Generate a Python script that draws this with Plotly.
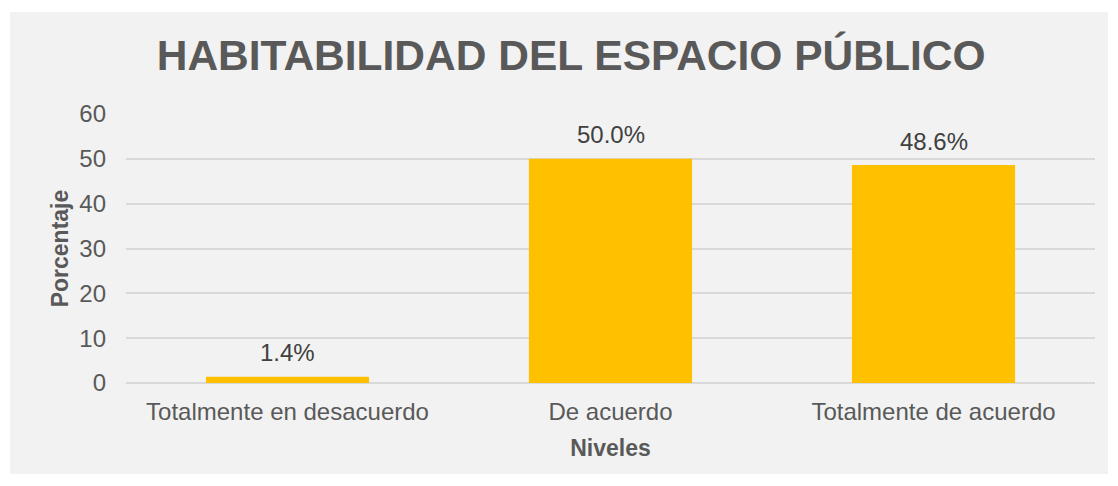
import plotly.graph_objects as go

niveles = ["Totalmente en desacuerdo", "De acuerdo", "Totalmente de acuerdo"]
porcentaje = [1.4, 50.0, 48.6]
y_ticks = [0, 10, 20, 30, 40, 50, 60]

fig = go.Figure()

fig.add_trace(go.Bar(
    x=niveles,
    y=porcentaje,
    marker=dict(color="#FFC000", line=dict(width=0)),
    hoverinfo="x+y",
))

# etiquetas de datos encima de cada barra
for nivel, valor in zip(niveles, porcentaje):
    fig.add_annotation(
        x=nivel, y=valor, text=f"{valor:.1f}%",
        showarrow=False, yanchor="middle", yshift=24,
        font=dict(size=24, color="#404040"),
    )

# fondo gris del área del gráfico
fig.add_shape(
    type="rect", xref="paper", yref="paper", layer="below",
    x0=-0.1197, x1=1.0134, y0=-0.3383, y1=1.3792,
    fillcolor="#F2F2F2", line=dict(width=0),
)

fig.update_layout(
    width=1102,
    height=470,
    margin=dict(l=118, r=15, t=106, b=95),
    paper_bgcolor="white",
    plot_bgcolor="rgba(0,0,0,0)",
    font=dict(family="Liberation Sans, Arial, sans-serif", color="#595959"),
    title=dict(
        text="<b>HABITABILIDAD DEL ESPACIO PÚBLICO</b>",
        font=dict(size=42.5, color="#595959"),
        x=0.511, xanchor="center", y=0.9, yanchor="middle",
    ),
    bargap=0.495,
    showlegend=False,
    xaxis=dict(
        title=dict(text="<b>Niveles</b>", font=dict(size=23, color="#595959"), standoff=15),
        tickfont=dict(size=24, color="#595959"),
        ticklabelstandoff=12,
        showgrid=False,
        showline=False,
        ticks="",
    ),
    yaxis=dict(
        title=dict(text="<b>Porcentaje</b>", font=dict(size=23, color="#595959"), standoff=4),
        range=[0, 60],
        tickvals=y_ticks,
        tickfont=dict(size=24, color="#595959"),
        ticklabelstandoff=19,
        gridcolor="#D9D9D9",
        gridwidth=1.5,
        zeroline=True,
        zerolinecolor="#D9D9D9",
        zerolinewidth=1.5,
        showline=False,
        ticks="",
    ),
)

fig.write_html("out.html")
